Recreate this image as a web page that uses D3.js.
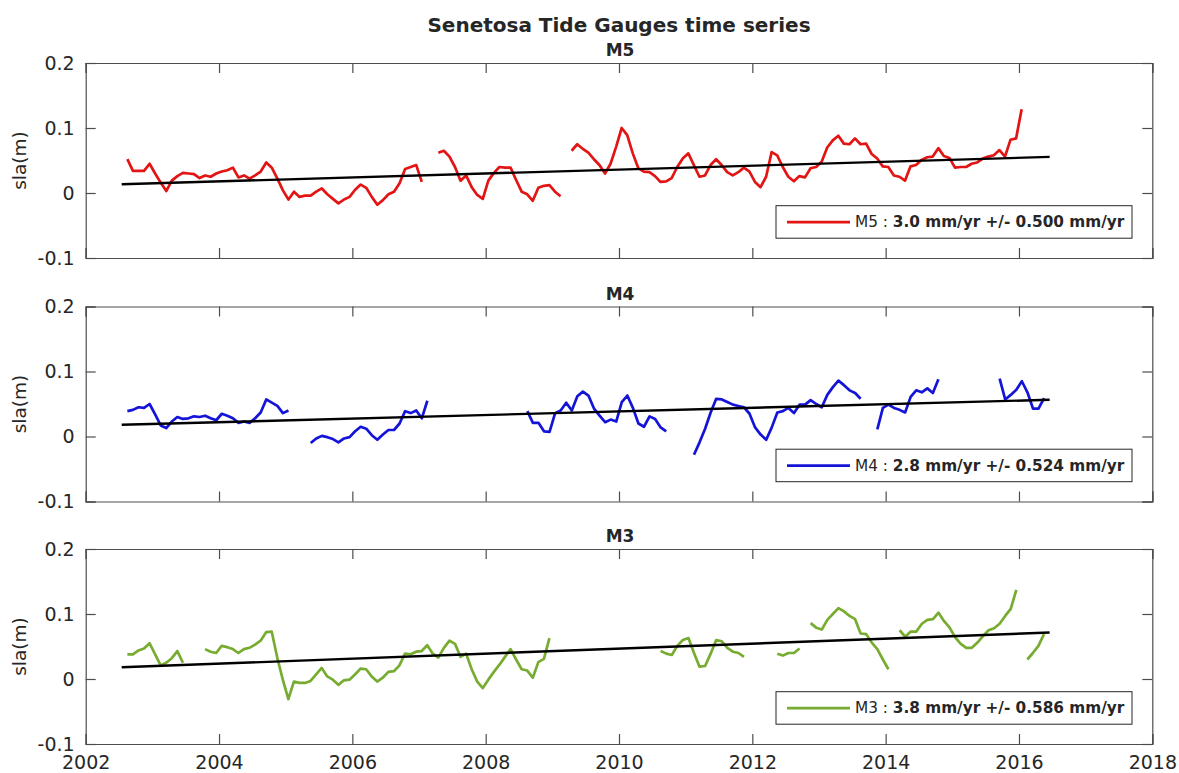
<!DOCTYPE html>
<html>
<head>
<meta charset="utf-8">
<script src="https://cdn.jsdelivr.net/npm/d3@7"></script>
<style>
  body { margin: 0; background: #fff; }
  svg text { font-family: "DejaVu Sans", sans-serif; fill: #262626; }
</style>
</head>
<body>
<svg id="chart" width="1179" height="773"></svg>
<script>
// panel names, colours and legend texts
const panelNames = ["M5", "M4", "M3"];
const panelColors = ["#e31414", "#1414d8", "#77ac30"];
const rateTexts = ["3.0 mm/yr +/- 0.500 mm/yr", "2.8 mm/yr +/- 0.524 mm/yr", "3.8 mm/yr +/- 0.586 mm/yr"];

// tick labels
const xTicks = [2002, 2004, 2006, 2008, 2010, 2012, 2014, 2016, 2018];
const yTicks = [-0.1, 0, 0.1, 0.2];

// monthly sea level anomaly (m): start of each segment (decimal year) and its monthly values
const m5Starts = [2002.625, 2007.29, 2009.29];
const m5Values = [
  [0.052, 0.034, 0.034, 0.034, 0.045, 0.030, 0.016, 0.003, 0.019, 0.026, 0.031, 0.030, 0.029, 0.023, 0.027, 0.025, 0.030, 0.033, 0.035, 0.039, 0.024, 0.027, 0.022, 0.027, 0.033, 0.047, 0.039, 0.022, 0.004, -0.010, 0.002, -0.006, -0.004, -0.004, 0.002, 0.007, -0.002, -0.009, -0.016, -0.010, -0.006, 0.005, 0.013, 0.008, -0.006, -0.018, -0.011, -0.002, 0.002, 0.015, 0.037, 0.040, 0.043, 0.017],
  [0.062, 0.065, 0.056, 0.040, 0.019, 0.027, 0.009, -0.003, -0.009, 0.019, 0.031, 0.040, 0.039, 0.039, 0.020, 0.002, -0.002, -0.012, 0.008, 0.011, 0.012, 0.002, -0.005],
  [0.065, 0.075, 0.068, 0.062, 0.052, 0.043, 0.030, 0.045, 0.071, 0.100, 0.089, 0.061, 0.038, 0.033, 0.032, 0.026, 0.017, 0.018, 0.023, 0.040, 0.053, 0.061, 0.043, 0.025, 0.027, 0.043, 0.052, 0.043, 0.032, 0.027, 0.032, 0.039, 0.033, 0.017, 0.009, 0.025, 0.063, 0.058, 0.040, 0.025, 0.018, 0.026, 0.024, 0.038, 0.040, 0.048, 0.070, 0.081, 0.088, 0.076, 0.075, 0.084, 0.075, 0.076, 0.060, 0.053, 0.041, 0.040, 0.027, 0.025, 0.019, 0.041, 0.043, 0.051, 0.055, 0.056, 0.069, 0.057, 0.054, 0.039, 0.040, 0.040, 0.045, 0.047, 0.053, 0.056, 0.058, 0.066, 0.056, 0.082, 0.084, 0.129]
];

const m4Starts = [2002.625, 2005.375, 2008.625, 2011.125, 2013.875, 2015.71];
const m4Values = [
  [0.039, 0.041, 0.045, 0.044, 0.050, 0.034, 0.017, 0.013, 0.023, 0.030, 0.027, 0.028, 0.031, 0.030, 0.032, 0.028, 0.025, 0.035, 0.032, 0.028, 0.021, 0.023, 0.021, 0.028, 0.037, 0.057, 0.052, 0.047, 0.036, 0.040],
  [-0.010, -0.003, 0.001, -0.001, -0.004, -0.009, -0.003, -0.001, 0.008, 0.015, 0.012, 0.002, -0.005, 0.003, 0.010, 0.010, 0.020, 0.039, 0.036, 0.040, 0.028, 0.055],
  [0.039, 0.021, 0.021, 0.008, 0.007, 0.036, 0.040, 0.052, 0.040, 0.062, 0.069, 0.063, 0.043, 0.032, 0.022, 0.026, 0.023, 0.053, 0.063, 0.044, 0.020, 0.015, 0.031, 0.027, 0.014, 0.008],
  [-0.028, -0.009, 0.012, 0.037, 0.058, 0.057, 0.053, 0.049, 0.047, 0.045, 0.035, 0.014, 0.003, -0.005, 0.014, 0.037, 0.039, 0.044, 0.036, 0.049, 0.049, 0.056, 0.050, 0.045, 0.064, 0.076, 0.086, 0.079, 0.071, 0.067, 0.058],
  [0.011, 0.044, 0.049, 0.044, 0.041, 0.037, 0.061, 0.071, 0.068, 0.074, 0.067, 0.088],
  [0.089, 0.057, 0.064, 0.072, 0.085, 0.068, 0.043, 0.043, 0.059]
];

const m3Starts = [2002.625, 2003.79, 2010.625, 2012.375, 2012.875, 2014.21, 2016.125];
const m3Values = [
  [0.038, 0.038, 0.044, 0.047, 0.055, 0.038, 0.021, 0.025, 0.032, 0.043, 0.025],
  [0.046, 0.042, 0.040, 0.051, 0.049, 0.046, 0.040, 0.046, 0.048, 0.053, 0.059, 0.072, 0.073, 0.033, -0.001, -0.031, -0.004, -0.006, -0.006, -0.003, 0.007, 0.017, 0.004, -0.001, -0.009, -0.002, -0.001, 0.007, 0.016, 0.015, 0.004, -0.004, 0.002, 0.011, 0.012, 0.021, 0.039, 0.038, 0.042, 0.043, 0.052, 0.039, 0.033, 0.048, 0.059, 0.054, 0.034, 0.039, 0.015, -0.004, -0.014, -0.001, 0.011, 0.022, 0.034, 0.046, 0.030, 0.015, 0.013, 0.002, 0.026, 0.031, 0.063],
  [0.043, 0.039, 0.037, 0.051, 0.060, 0.063, 0.040, 0.019, 0.020, 0.039, 0.060, 0.058, 0.048, 0.042, 0.040, 0.034],
  [0.039, 0.036, 0.040, 0.040, 0.047],
  [0.086, 0.079, 0.076, 0.091, 0.100, 0.109, 0.104, 0.097, 0.092, 0.070, 0.069, 0.056, 0.046, 0.030, 0.015],
  [0.075, 0.065, 0.073, 0.073, 0.085, 0.091, 0.092, 0.102, 0.089, 0.079, 0.064, 0.054, 0.048, 0.048, 0.056, 0.066, 0.075, 0.078, 0.085, 0.097, 0.108, 0.137],
  [0.030, 0.040, 0.051, 0.069]
];

// linear trends (start/end year, start/end value)
const trendYears = [2002.54, 2016.46];
const m5Trend = [0.0135, 0.0555];
const m4Trend = [0.018, 0.0565];
const m3Trend = [0.018, 0.0715];

const allStarts = [m5Starts, m4Starts, m3Starts];
const allValues = [m5Values, m4Values, m3Values];
const allTrends = [m5Trend, m4Trend, m3Trend];

const svg = d3.select('#chart');
const left = 85.7, right = 1152.3;
const panelTops = [63, 306.5, 549];
const panelH = 195;
const axisColor = '#4d4d4d';

const x = d3.scaleLinear().domain([2002, 2018]).range([left, right]);

// main title
svg.append('text')
  .attr('x', 619).attr('y', 32)
  .attr('text-anchor', 'middle')
  .style('font-size', '20px').style('font-weight', 'bold')
  .text('Senetosa Tide Gauges time series');

panelNames.forEach((name, p) => {
  const top = panelTops[p];
  const y = d3.scaleLinear().domain([-0.1, 0.2]).range([top + panelH, top]);
  const g = svg.append('g');

  // axes (ticks pointing inward, box all round)
  const styleAxis = sel => {
    sel.selectAll('path.domain').attr('stroke', axisColor).attr('stroke-width', 1.2);
    sel.selectAll('.tick line').attr('stroke', axisColor).attr('stroke-width', 1.2);
    sel.selectAll('.tick text').style('font-size', '19px').attr('fill', '#262626');
  };

  g.append('g')
    .attr('transform', `translate(${left},0)`)
    .call(d3.axisLeft(y).tickValues(yTicks).tickSize(-10).tickPadding(11)
      .tickFormat(d => d === 0 ? '0' : String(d)))
    .call(styleAxis);

  g.append('g')
    .attr('transform', `translate(${right},0)`)
    .call(d3.axisRight(y).tickValues(yTicks).tickSize(-10).tickFormat(''))
    .call(styleAxis);

  g.append('g')
    .attr('transform', `translate(0,${top})`)
    .call(d3.axisTop(x).tickValues(xTicks).tickSize(-10).tickFormat(''))
    .call(styleAxis);

  g.append('g')
    .attr('transform', `translate(0,${top + panelH})`)
    .call(d3.axisBottom(x).tickValues(xTicks).tickSize(-10).tickPadding(12)
      .tickFormat(p === panelNames.length - 1 ? d3.format('d') : ''))
    .call(styleAxis);

  // panel title
  g.append('text')
    .attr('x', 620).attr('y', top - 7)
    .attr('text-anchor', 'middle')
    .style('font-size', '17px').style('font-weight', 'bold')
    .text(name);

  // y label
  g.append('text')
    .attr('transform', `translate(26,${top + panelH / 2}) rotate(-90)`)
    .attr('text-anchor', 'middle')
    .style('font-size', '18.5px')
    .text('sla(m)');

  // data segments
  const line = d3.line().x(d => x(d[0])).y(d => y(d[1]));
  allValues[p].forEach((vals, s) => {
    const pts = vals.map((v, i) => [allStarts[p][s] + i / 12, v]);
    g.append('path')
      .attr('d', line(pts))
      .attr('fill', 'none')
      .attr('stroke', panelColors[p])
      .attr('stroke-width', 2.7)
      .attr('stroke-linejoin', 'round');
  });

  // trend line
  const tr = trendYears.map((t, i) => [t, allTrends[p][i]]);
  g.append('path')
    .attr('d', line(tr))
    .attr('fill', 'none')
    .attr('stroke', '#000')
    .attr('stroke-width', 2.4);

  // legend
  const ly = top + 142.7;
  const lg = g.append('g');
  lg.append('rect')
    .attr('x', 776).attr('y', ly).attr('width', 356).attr('height', 32.5)
    .attr('fill', '#fff').attr('stroke', '#262626').attr('stroke-width', 1);
  lg.append('line')
    .attr('x1', 787).attr('x2', 850)
    .attr('y1', ly + 16.5).attr('y2', ly + 16.5)
    .attr('stroke', panelColors[p]).attr('stroke-width', 2.7);
  const lt = lg.append('text')
    .attr('x', 855).attr('y', ly + 21.5)
    .style('font-size', '15.3px');
  lt.append('tspan').text(name + ' : ');
  lt.append('tspan').style('font-weight', 'bold').text(rateTexts[p]);
});
</script>
</body>
</html>
